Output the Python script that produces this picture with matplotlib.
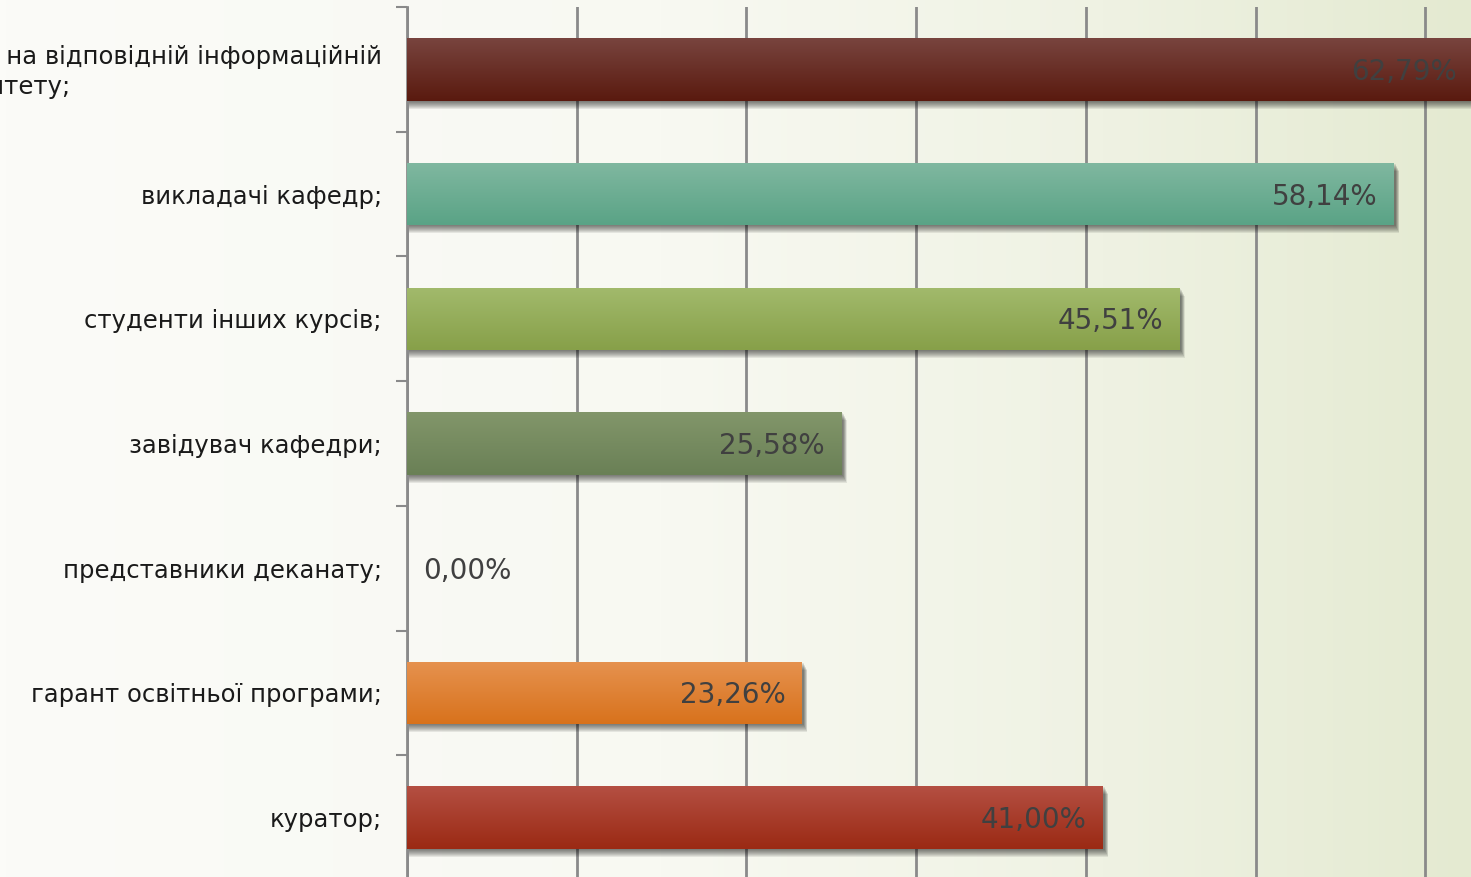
import matplotlib.pyplot as plt
import numpy as np
from matplotlib.colors import LinearSegmentedColormap

categories = [
    "інформація, розміщена на відповідній інформаційній\nсторінці сайту університету;",
    "викладачі кафедр;",
    "студенти інших курсів;",
    "завідувач кафедри;",
    "представники деканату;",
    "гарант освітньої програми;",
    "куратор;",
]
values = [62.79, 58.14, 45.51, 25.58, 0.00, 23.26, 41.00]
value_labels = ["62,79%", "58,14%", "45,51%", "25,58%", "0,00%", "23,26%", "41,00%"]
# (top, bottom) gradient colours per bar
bar_colors = [
    ("#78443e", "#5a1a0f"),
    ("#80b8a0", "#5aa386"),
    ("#a2ba6c", "#87a049"),
    ("#82966a", "#6a8056"),
    ("#cccccc", "#aaaaaa"),
    ("#e6924f", "#d8721c"),
    ("#b44f42", "#9b2a14"),
]

W, H = 1471, 877
fig = plt.figure(figsize=(W / 100, H / 100), dpi=100)

# background gradient: near white on the left, pale green on the right
bg = fig.add_axes([0, 0, 1, 1], zorder=0)
bg_cmap = LinearSegmentedColormap.from_list(
    "bg", [(0, "#fbfbf8"), (0.45, "#f8f9f2"), (0.75, "#eff2e3"), (1, "#e4ead1")])
bg.imshow(np.linspace(0, 1, 256)[None, :], aspect="auto", cmap=bg_cmap,
          extent=[0, 1, 0, 1])
bg.axis("off")

left = 407 / W
top = 7 / H
bottom = -3 / H
ax = fig.add_axes([left, bottom, 1 - left, 1 - top - bottom], zorder=1)
ax.patch.set_visible(False)

n = len(categories)
y = np.arange(n)
xmax = (W - 407) / 16.97
ax.set_xlim(0, xmax)
ax.set_ylim(n - 0.5, -0.5)

px_x = xmax / (W - 407)
px_y = n / (880 - 7)

bars = ax.barh(y, values, height=0.5, color="none", zorder=3)

for i, (rect, (c_top, c_bot)) in enumerate(zip(bars, bar_colors)):
    if values[i] <= 0:
        continue
    x0, y0 = rect.get_x(), rect.get_y()
    w, h = rect.get_width(), rect.get_height()
    # soft drop shadow, mostly below the bar
    for k in range(8):
        ax.add_patch(plt.Rectangle((x0 + 2 * px_x, y0 + (k + 1) * px_y),
                                   w + (k * 0.5) * px_x, h,
                                   facecolor="black", alpha=0.08, lw=0, zorder=2))
    cmap = LinearSegmentedColormap.from_list("b%d" % i, [c_top, c_bot])
    im = ax.imshow(np.linspace(0, 1, 64)[:, None], aspect="auto", cmap=cmap,
                   extent=[x0, x0 + w, y0 + h, y0], zorder=3, interpolation="bicubic")
    im.set_clip_path(rect)

ax.set_xlim(0, xmax)
ax.set_ylim(n - 0.5, -0.5)

for i, (v, lab) in enumerate(zip(values, value_labels)):
    if v > 0:
        ax.text(v - 16 * px_x, i + 0.02, lab, ha="right", va="center",
                fontsize=20, color="#404040", family="DejaVu Sans", zorder=5)
    else:
        ax.text(16 * px_x, i + 0.02, lab, ha="left", va="center",
                fontsize=20, color="#404040", family="DejaVu Sans", zorder=5)

# gridlines
ax.set_xticks(np.arange(0, 70, 10))
ax.xaxis.grid(True, color="#8a8a8a", lw=2)
ax.set_axisbelow(True)
ax.tick_params(axis="x", length=0, labelbottom=False)

ax.set_yticks(np.arange(-0.5, n + 0.5, 1))
ax.set_yticklabels([])
ax.tick_params(axis="y", length=8, width=1.5, color="#8a8a8a", direction="out")
for s in ["top", "right", "bottom"]:
    ax.spines[s].set_visible(False)
ax.spines["left"].set_color("#8a8a8a")
ax.spines["left"].set_linewidth(2)

for i, cat in enumerate(categories):
    ax.text(-25 * px_x, i + 0.02, cat, ha="right", va="center", multialignment="left",
            fontsize=17.5, color="#1a1a1a", family="DejaVu Sans", linespacing=1.35,
            clip_on=False)

fig.savefig("out.png", dpi=100)
